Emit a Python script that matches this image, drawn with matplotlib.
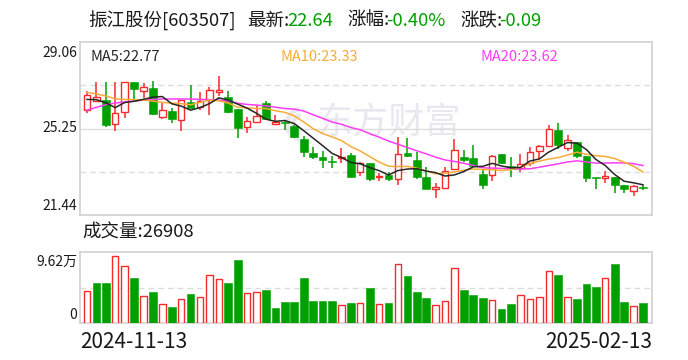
import matplotlib.pyplot as plt
import numpy as np
import pandas as pd
from matplotlib.patches import Rectangle, Arc

plt.rcParams['font.family'] = ['Noto Sans CJK SC', 'DejaVu Sans']

# daily k-line 2024-11-13 .. 2025-02-13 (60 trading days)
dates = ["2024-11-13", "2025-02-13"]
opens = [26.06, 26.45, 26.50, 25.43, 25.96, 27.28, 26.89, 27.02, 25.74, 26.01,
         25.61, 26.40, 26.18, 26.49, 26.84, 26.64, 26.11, 25.33, 25.52, 26.36,
         25.43, 25.55, 25.36, 24.79, 24.19, 23.98, 23.79, 23.96, 24.08, 23.33,
         23.72, 23.10, 23.20, 23.03, 24.19, 23.86, 23.11, 22.59, 22.63, 23.45,
         24.00, 23.94, 23.25, 23.19, 24.11, 23.60, 23.50, 23.72, 24.27, 24.49,
         25.18, 24.41, 24.66, 24.04, 23.09, 23.08, 23.13, 22.76, 22.48, 22.68]
highs = [26.90, 27.28, 27.28, 27.28, 27.28, 27.28, 27.24, 27.34, 26.39, 26.17,
         26.49, 27.17, 26.87, 27.06, 27.56, 26.90, 26.11, 25.77, 26.24, 26.46,
         25.84, 25.62, 25.40, 24.90, 24.45, 24.26, 24.04, 24.38, 24.16, 23.77,
         23.72, 23.28, 23.32, 24.87, 24.84, 24.23, 23.57, 22.84, 23.54, 24.79,
         24.30, 24.52, 23.42, 24.08, 24.11, 23.98, 24.11, 24.42, 24.52, 25.40,
         25.51, 24.96, 24.66, 24.04, 23.09, 23.39, 23.13, 22.76, 22.76, 22.76]
lows = [25.92, 26.42, 25.33, 25.15, 25.73, 26.40, 26.59, 25.84, 25.68, 25.51,
        25.15, 26.17, 26.05, 25.86, 26.70, 25.92, 24.85, 25.07, 25.48, 25.65,
        25.40, 25.18, 24.85, 24.01, 23.90, 23.52, 23.52, 23.72, 23.10, 23.17,
        22.94, 22.94, 22.94, 22.76, 23.98, 23.01, 22.57, 22.19, 22.59, 23.45,
        23.76, 23.57, 22.57, 22.94, 23.69, 23.10, 23.35, 23.61, 23.89, 24.42,
        24.33, 24.27, 23.94, 22.91, 22.57, 22.84, 22.42, 22.39, 22.29, 22.55]
closes = [26.73, 26.62, 25.42, 25.92, 27.28, 27.00, 27.06, 25.90, 26.05, 25.68,
          26.49, 26.17, 26.46, 26.93, 26.95, 25.99, 25.29, 25.57, 25.79, 25.65,
          25.52, 25.48, 24.89, 24.23, 24.01, 23.88, 23.78, 23.97, 23.13, 23.72,
          23.04, 23.11, 23.01, 24.11, 24.05, 23.13, 22.57, 22.67, 23.36, 24.30,
          23.88, 23.60, 22.78, 24.02, 23.72, 23.47, 23.67, 24.20, 24.48, 25.23,
          24.52, 24.73, 24.05, 23.08, 23.07, 23.16, 22.76, 22.57, 22.73, 22.64]
volumes = [44000, 54000, 54000, 90400, 77800, 60700, 36000, 41800, 25200, 21600,
           31900, 39100, 34600, 65600, 60200, 54000, 85000, 40000, 41400, 44500,
           20200, 28300, 28300, 60700, 29700, 29700, 29700, 24300, 27000, 27000,
           47200, 25600, 27000, 80500, 63400, 41800, 33700, 23800, 29200, 75100,
           44500, 37800, 33700, 30600, 18900, 25600, 37300, 31900, 34600, 71000,
           64700, 34600, 32400, 52600, 48600, 61600, 79600, 28300, 22500, 26908]
vol_up = [1, 0, 0, 1, 1, 0, 1, 0, 1, 0, 1, 0, 1, 1, 1, 0, 0, 1, 1, 0,
          0, 0, 0, 0, 0, 0, 0, 1, 0, 1, 0, 1, 0, 1, 0, 0, 0, 1, 1, 1,
          0, 0, 0, 1, 0, 0, 1, 1, 1, 1, 0, 1, 0, 0, 0, 1, 0, 0, 1, 0]

# moving averages before the window is full (history not shown)
ma5_head = [26.53, 26.52, 26.38, 26.17]
ma10_head = [26.84, 26.77, 26.68, 26.56, 26.53, 26.52, 26.50, 26.46, 26.40]
ma20_head = [26.06, 26.18, 26.30, 26.37, 26.42, 26.46, 26.50, 26.53, 26.55, 26.55,
             26.55, 26.55, 26.53, 26.52, 26.50, 26.46, 26.36, 26.31, 26.28]

price_range = (21.44, 29.06)
vol_max = 96200
name = "振江股份[603507]"
last, pct, chg = 22.64, -0.40, -0.09

RED = '#f52a2a'
GREEN = '#00a000'
GRID = '#dcdcdc'
BOX = '#d4d4d8'
C5, C10, C20 = '#262626', '#f7ac36', '#ff3cf5'

n = len(closes)
x = np.arange(n)
close_s = pd.Series(closes)
mas = {}
for w, head in [(5, ma5_head), (10, ma10_head), (20, ma20_head)]:
    m = close_s.rolling(w).mean().to_numpy()
    m[:len(head)] = head
    mas[w] = m

fig = plt.figure(figsize=(6.88, 3.6), dpi=100)

# background layer in pixel coords: texts + watermark
bg = fig.add_axes([0, 0, 1, 1], zorder=0)
bg.set_xlim(0, 688)
bg.set_ylim(360, 0)
bg.axis('off')

W, H = 688, 360
ax = fig.add_axes([80 / W, 1 - 215 / H, 572 / W, 173 / H], zorder=1)
axv = fig.add_axes([80 / W, 1 - 323 / H, 572 / W, 71 / H], zorder=1)
for a in (ax, axv):
    a.patch.set_alpha(0)
    a.set_xlim(-0.74, n - 0.04)
    a.set_xticks([])
    a.set_yticks([])
    for s in a.spines.values():
        s.set_color(BOX)
        s.set_linewidth(1.3)

lo, hi = price_range
ax.set_ylim(lo, hi)
mid = (lo + hi) / 2
ax.axhline(mid, color=GRID, lw=1.0, zorder=0)
for q in (lo + (hi - lo) / 4, lo + 3 * (hi - lo) / 4):
    ax.axhline(q, color=GRID, lw=1.0, dashes=(4, 3), zorder=0)

min_body = 0.04
for i in range(n):
    o, h, l, c = opens[i], highs[i], lows[i], closes[i]
    bot, top = min(o, c), max(o, c)
    if top - bot < min_body:
        top = bot + min_body
    if c >= o:
        ax.vlines(i, top, h, color=RED, lw=1.1, zorder=2)
        ax.vlines(i, l, bot, color=RED, lw=1.1, zorder=2)
        ax.add_patch(Rectangle((i - 0.34, bot), 0.68, top - bot, facecolor='white',
                               edgecolor=RED, lw=1.0, zorder=3))
    else:
        ax.vlines(i, l, h, color=GREEN, lw=1.1, zorder=2)
        ax.add_patch(Rectangle((i - 0.41, bot), 0.82, top - bot, facecolor=GREEN,
                               edgecolor=GREEN, lw=0.4, zorder=3))

ax.plot(x, mas[20], color=C20, lw=1.1, zorder=4)
ax.plot(x, mas[10], color=C10, lw=1.1, zorder=4)
ax.plot(x, mas[5], color=C5, lw=1.1, zorder=4)

# volume
axv.set_ylim(0, vol_max)
axv.axhline(vol_max / 2, color=GRID, lw=1.0, dashes=(4, 3), zorder=0)
for i in range(n):
    if vol_up[i]:
        axv.add_patch(Rectangle((i - 0.34, 0), 0.68, volumes[i], facecolor='white',
                                edgecolor=RED, lw=1.0, zorder=3))
    else:
        axv.add_patch(Rectangle((i - 0.41, 0), 0.82, volumes[i], facecolor=GREEN,
                                edgecolor=GREEN, lw=0.4, zorder=3))

# watermark
bg.text(389, 124, "东方财富", ha='center', va='center', fontsize=26,
        color='#e8e8ee', fontweight='medium', zorder=0)
for r in (15, 9):
    bg.add_patch(Arc((302, 124), 2 * r, 2 * r, theta1=100, theta2=260,
                     color='#e8e8ee', lw=3.5))

# title
ty = 21
pieces = [(88, name, '#1a1a1a'), (247, "最新:", '#1a1a1a'), (287, f"{last:.2f}", GREEN),
          (347, "涨幅:", '#1a1a1a'), (386, f"{pct:.2f}%", GREEN),
          (460, "涨跌:", '#1a1a1a'), (499, f"{chg:.2f}", GREEN)]
for px, t, col in pieces:
    bg.text(px, ty, t, ha='left', va='center', fontsize=13.3, color=col)

# MA legend
bg.text(90, 57, f"MA5:{mas[5][-1]:.2f}", fontsize=10.5, color=C5, va='center')
bg.text(281, 57, f"MA10:{mas[10][-1]:.2f}", fontsize=10.5, color=C10, va='center')
bg.text(481, 57, f"MA20:{mas[20][-1]:.2f}", fontsize=10.5, color=C20, va='center')

# axis labels
lab = dict(ha='right', fontsize=10, color='#1a1a1a')
bg.text(77, 46, f"{hi:.2f}", va='top', **lab)
bg.text(77, 128, f"{mid:.2f}", va='center', **lab)
bg.text(77, 213, f"{lo:.2f}", va='bottom', **lab)
bg.text(77, 255, f"{vol_max / 10000:.2f}万", va='top', **lab)
bg.text(77, 322, "0", va='bottom', **lab)

bg.text(82, 233, f"成交量:{volumes[-1]}", fontsize=13.3, color='#1a1a1a', va='center')

bg.text(80, 342, dates[0], ha='left', va='center', fontsize=15, color='#1a1a1a')
bg.text(652, 342, dates[1], ha='right', va='center', fontsize=15, color='#1a1a1a')

fig.savefig('out.png', dpi=100)
